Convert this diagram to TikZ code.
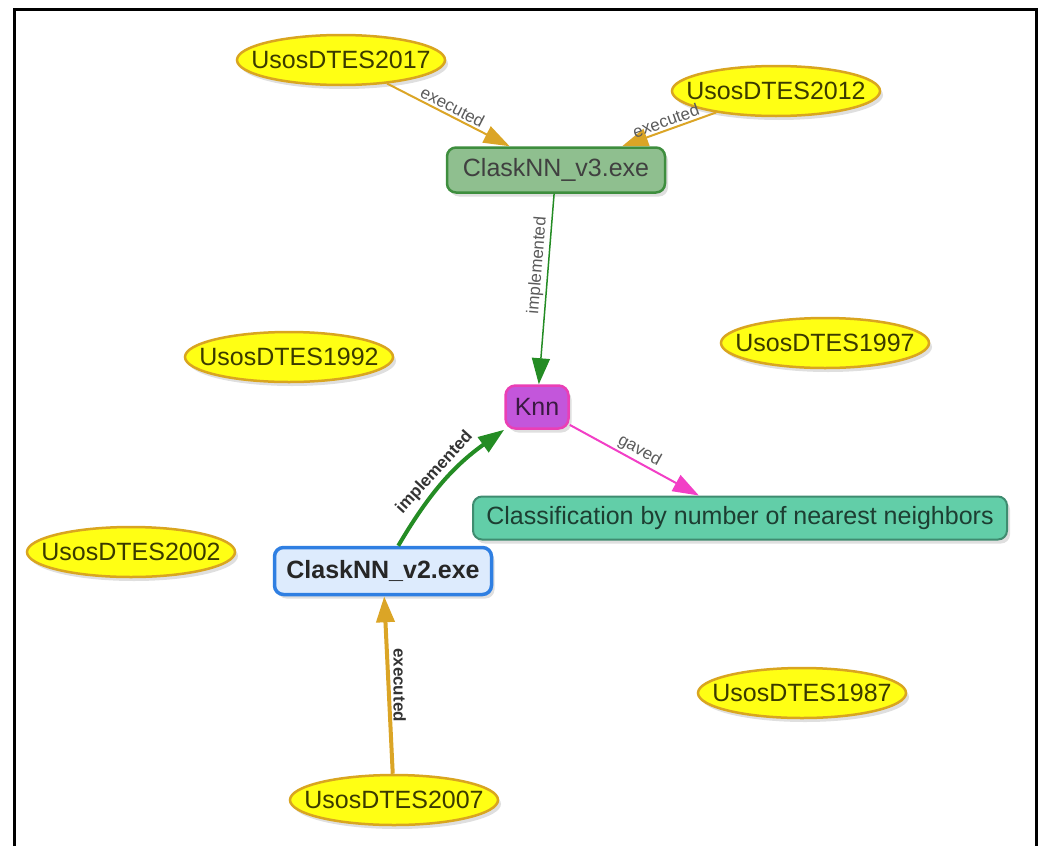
\documentclass[tikz,border=0pt]{standalone}
\usepackage{fontspec}
\setmainfont{Liberation Sans}
\usepackage{tikz}
\usetikzlibrary{shapes,arrows.meta,shadows}
\usepackage{xcolor}
\definecolor{kgYear}{HTML}{FFFF14}
\definecolor{kgYearLine}{HTML}{D9A520}
\definecolor{kgYearText}{HTML}{3A3A00}
\definecolor{kgExe}{HTML}{8FBF8F}
\definecolor{kgExeLine}{HTML}{3E8E3E}
\definecolor{kgAlgo}{HTML}{C356DB}
\definecolor{kgAlgoLine}{HTML}{EA3FB5}
\definecolor{kgDesc}{HTML}{62CEA8}
\definecolor{kgDescLine}{HTML}{3F8C70}
\definecolor{kgMain}{HTML}{DDEBFD}
\definecolor{kgMainLine}{HTML}{2F7FE2}
\definecolor{kgRun}{HTML}{DBA526}
\definecolor{kgImpl}{HTML}{248C24}
\definecolor{kgGave}{HTML}{F23FC6}
\definecolor{kgLabel}{HTML}{5A5A5A}

\begin{document}
\begin{tikzpicture}[x=1pt,y=-1pt,font=\fontsize{25}{28}\selectfont,
    year/.style={ellipse, draw=kgYearLine, line width=2.5pt, fill=kgYear, text=kgYearText, minimum width=208pt, minimum height=50pt, inner xsep=-30pt, inner ysep=0pt, drop shadow={opacity=0.25, shadow xshift=3pt, shadow yshift=-4pt}},
    box/.style={rectangle, rounded corners=9pt, line width=2.5pt, inner sep=0pt, drop shadow={opacity=0.25, shadow xshift=3pt, shadow yshift=-4pt}},
    rel/.style={font=\fontsize{17}{20}\selectfont, text=kgLabel, inner sep=2pt},
    relbold/.style={font=\fontsize{17}{20}\selectfont\bfseries, text=black!80, inner sep=3pt},
    kgarrow/.style={-{Triangle[length=26pt,width=18pt]}}]
    \useasboundingbox (0,0) rectangle (1041,846);
    % Frame
    \draw[line width=3pt] (14,846) -- (14,9.5) -- (1036,9.5) -- (1036,846);
    
    % Years of use
    \node[year] (y2017) at (341,60) {UsosDTES2017};
    \node[year] (y2012) at (776,91) {UsosDTES2012};
    \node[year] (y1992) at (289,357) {UsosDTES1992};
    \node[year] (y1997) at (825,343) {UsosDTES1997};
    \node[year] (y2002) at (131,552) {UsosDTES2002};
    \node[year] (y1987) at (802,693) {UsosDTES1987};
    \node[year] (y2007) at (394,800) {UsosDTES2007};
    
    % Executables
    \node[box, draw=kgExeLine, fill=kgExe, text=black!75, minimum width=218pt, minimum height=45pt] (v3) at (556,170) {ClaskNN\_v3.exe};
    \node[box, draw=kgMainLine, fill=kgMain, line width=3.5pt, text=black!85, font=\fontsize{25}{28}\selectfont\bfseries, minimum width=217pt, minimum height=47pt] (v2) at (383,571) {ClaskNN\_v2.exe};
    
    % Algorithm
    \node[box, draw=kgAlgoLine, fill=kgAlgo, text=black!70!kgAlgo, minimum width=63pt, minimum height=43pt, rounded corners=10pt] (knn) at (537,407) {Knn};
    
    % Description
    \node[box, draw=kgDescLine, fill=kgDesc, text=black!70!kgDesc, line width=2pt, minimum width=534pt, minimum height=43pt] (cls) at (740,518) {Classification by number of nearest neighbors};
    
    % Arrows
    \draw[kgarrow, kgRun, line width=2pt] (y2017) -- node[rel, midway, above, sloped] {executed} (v3);
    \draw[kgarrow, kgRun, line width=2pt] (y2012) -- node[rel, midway, above, sloped] {executed} (v3);
    \draw[kgarrow, kgImpl, line width=1.5pt] (v3) -- node[rel, pos=0.38, above, sloped] {implemented} (knn);
    \draw[kgarrow, kgGave, line width=2pt] (knn) -- node[rel, midway, above, sloped] {gaved} (cls);
    \draw[kgarrow, kgImpl, line width=4pt] (v2) to[bend left=12] node[relbold, midway, above, sloped] {implemented} (knn);
    \draw[kgarrow, kgRun, line width=4pt] (y2007) -- node[relbold, midway, above, rotate=-90] {executed} (v2);
\end{tikzpicture}
\end{document}
